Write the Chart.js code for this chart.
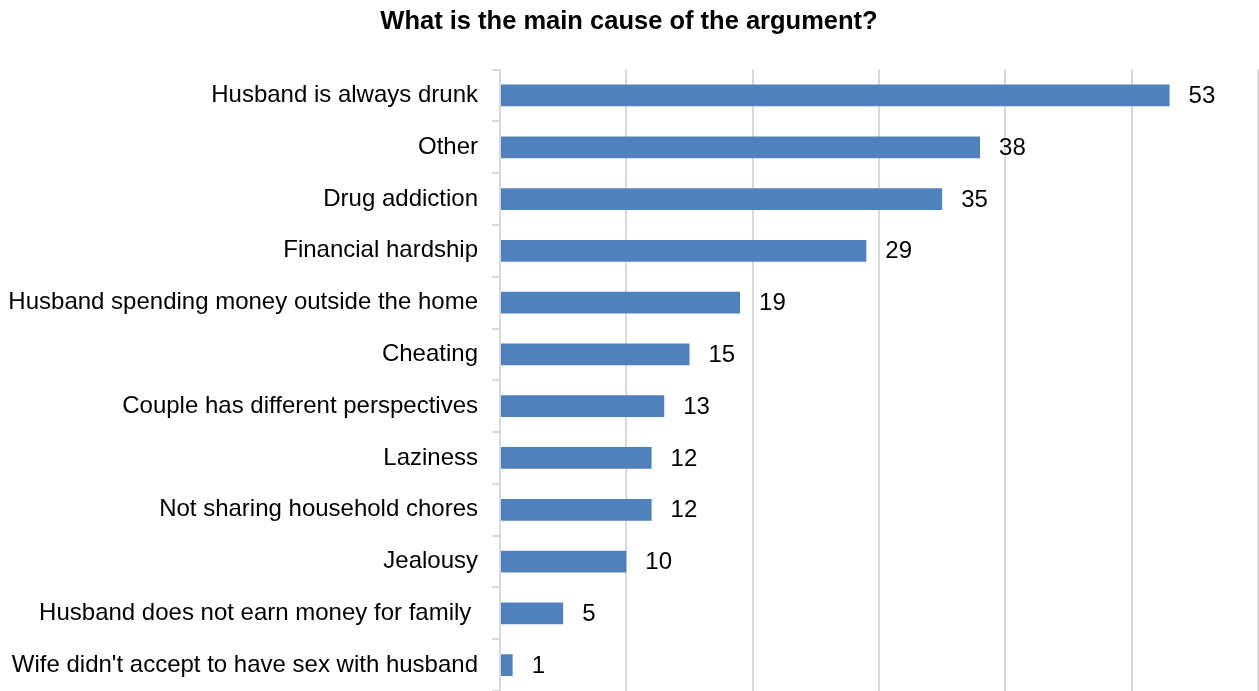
<!DOCTYPE html>
<html>
<head>
<meta charset="utf-8">
<script src="https://cdn.jsdelivr.net/npm/chart.js@4.4.0/dist/chart.umd.min.js"></script>
<style>
  html, body { margin: 0; padding: 0; background: #fff; }
  #wrap { width: 1259px; height: 691px; }
</style>
</head>
<body>
<div id="wrap"><canvas id="myChart"></canvas></div>
<script>
const causes = [
  "Husband is always drunk",
  "Other",
  "Drug addiction",
  "Financial hardship",
  "Husband spending money outside the home",
  "Cheating",
  "Couple has different perspectives",
  "Laziness",
  "Not sharing household chores",
  "Jealousy",
  "Husband does not earn money for family ",
  "Wife didn't accept to have sex with husband"
];
const counts = [53, 38, 35, 29, 19, 15, 13, 12, 12, 10, 5, 1];

const fontFamily = "'Liberation Sans', Arial, sans-serif";

// writes the number just past the end of each bar
const valueLabels = {
  id: "valueLabels",
  afterDatasetsDraw(chart) {
    const ctx = chart.ctx;
    const meta = chart.getDatasetMeta(0);
    ctx.save();
    ctx.font = "24px " + fontFamily;
    ctx.fillStyle = "#000";
    ctx.textAlign = "left";
    ctx.textBaseline = "middle";
    meta.data.forEach(function (bar, i) {
      ctx.fillText(String(counts[i]), bar.x + 19, bar.y + 1);
    });
    ctx.restore();
  }
};

const ctx = document.getElementById("myChart");
new Chart(ctx, {
  type: "bar",
  data: {
    labels: causes,
    datasets: [
      {
        data: counts,
        backgroundColor: "#4f81bd",
        borderWidth: 0,
        barPercentage: 0.42,
        categoryPercentage: 1
      }
    ]
  },
  options: {
    indexAxis: "y",
    responsive: true,
    maintainAspectRatio: false,
    animation: false,
    layout: { padding: { top: 0, right: 1, bottom: 0, left: 0 } },
    plugins: {
      legend: { display: false },
      tooltip: { enabled: false },
      title: {
        display: true,
        text: "What is the main cause of the argument?",
        color: "#000",
        font: { family: fontFamily, size: 25.5, weight: "bold" },
        padding: { top: 7, bottom: 32 }
      }
    },
    scales: {
      x: {
        min: 0,
        max: 60,
        ticks: { display: false, stepSize: 10 },
        grid: { color: "#d9d9d9", lineWidth: 2, drawTicks: false },
        border: { display: false },
        afterFit: function (scale) {
          scale.height = 0;
        }
      },
      y: {
        ticks: {
          color: "#000",
          padding: 14,
          font: { family: fontFamily, size: 24 }
        },
        grid: { drawOnChartArea: false, color: "#d9d9d9", lineWidth: 2, tickLength: 8 },
        border: { color: "#d9d9d9", width: 2 },
        afterFit: function (scale) {
          scale.width = 500;
          // let the category bands run to the bottom edge
          scale.paddingTop = 0;
          scale.paddingBottom = 0;
        }
      }
    }
  },
  plugins: [valueLabels]
});
</script>
</body>
</html>
